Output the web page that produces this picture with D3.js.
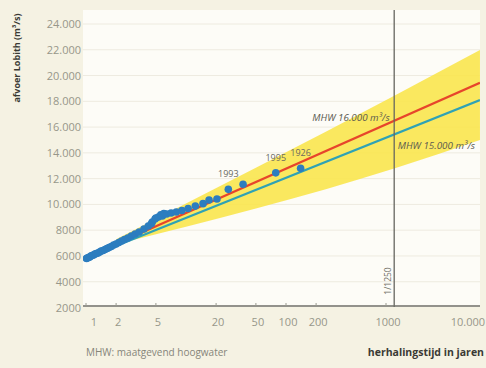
<!DOCTYPE html>
<html><head><meta charset="utf-8">
<script src="https://cdn.jsdelivr.net/npm/d3@7"></script>
<style>
html,body{margin:0;padding:0;background:#f5f2e3;}
svg{display:block;font-family:"Open Sans",sans-serif;}
</style></head>
<body>
<svg id="c" width="486" height="368"></svg>
<script>
// ---- data ----
const yTicks = [2000,4000,6000,8000,10000,12000,14000,16000,18000,20000,22000,24000];
const xTicks = [1,2,5,20,50,100,200,1000,10000];
const xTickLabels = ["1","2","5","20","50","100","200","1000","10.000"];

// observed annual maxima: return period (years) and discharge (m3/s)
const obsT = [1.01,1.03,1.06,1.09,1.12,1.15,1.19,1.23,1.27,1.32,1.37,1.42,1.48,1.55,1.62,1.70,1.79,1.89,2.0,2.13,2.27,2.43,2.62,2.84,3.1,3.4,3.8,4.2,4.5,4.6,4.9,5.0,5.3,5.6,5.8,6.0,6.4,7.1,8.0,9.1,10.5,12.4,14.8,17,20.4,26.5,37.2,79,140];
const obsQ = [5800,5840,5880,5920,6000,6030,6070,6150,6190,6230,6310,6380,6420,6500,6580,6650,6730,6850,6930,7040,7160,7280,7390,7550,7700,7860,8090,8320,8500,8630,8860,8950,9020,9200,9100,9300,9250,9330,9410,9530,9680,9870,10060,10340,10420,11170,11560,12450,12800];
const yearLabels = [{T:26.5,Q:11170,label:"1993"},{T:79,Q:12450,label:"1995"},{T:140,Q:12800,label:"1926"}];

// fitted lines
const lineT = [1, 8700];
const mhw16Q = [5900, 19440];
const mhw15Q = [5840, 18100];

// confidence band
const bandT = [2, 1250, 8700];
const bandUpper = [7300, 18490, 21980];
const bandLower = [6900, 12820, 14990];

const designT = 1250;

// ---- drawing ----
const svg = d3.select("#c");
const x = d3.scaleLog().domain([1,10000]).range([86,486]);
const y = d3.scaleLinear().domain([2000,24000]).range([307.5,24]);
const plotL = 83, plotR = 480, plotT = 10, plotB = 307;

svg.append("rect").attr("x",plotL).attr("y",plotT).attr("width",plotR-plotL).attr("height",plotB-plotT).attr("fill","#fdfcf7");

// gridlines
svg.append("g").selectAll("line").data(yTicks.slice(1)).join("line")
  .attr("x1",plotL).attr("x2",plotR).attr("y1",d=>y(d)).attr("y2",d=>y(d))
  .attr("stroke","#eeebe0").attr("stroke-width",1);

const clip = svg.append("clipPath").attr("id","pc").append("rect")
  .attr("x",plotL).attr("y",plotT).attr("width",plotR-plotL).attr("height",plotB-plotT);
const g = svg.append("g").attr("clip-path","url(#pc)");

// band
const bandData = bandT.map((t,i)=>({t, u:bandUpper[i], l:bandLower[i]}));
g.append("path").datum(bandData)
  .attr("d", d3.area().x(d=>x(d.t)).y0(d=>y(d.l)).y1(d=>y(d.u)).curve(d3.curveMonotoneX))
  .attr("fill","#f9e64e").attr("opacity",0.9);

// lines
const ln = d3.line().x(d=>x(d.t)).y(d=>y(d.q));
g.append("path").datum(lineT.map((t,i)=>({t,q:mhw15Q[i]}))).attr("d",ln)
  .attr("fill","none").attr("stroke","#2fa2b5").attr("stroke-width",2.2);
g.append("path").datum(lineT.map((t,i)=>({t,q:mhw16Q[i]}))).attr("d",ln)
  .attr("fill","none").attr("stroke","#e7452b").attr("stroke-width",2.4);

// vertical design line
svg.append("line").attr("x1",x(designT)-1.5).attr("x2",x(designT)-1.5).attr("y1",plotT).attr("y2",plotB)
  .attr("stroke","#666660").attr("stroke-width",1.3);

// x axis
svg.append("line").attr("x1",plotL).attr("x2",plotR).attr("y1",plotB-1).attr("y2",plotB-1)
  .attr("stroke","#6f6f68").attr("stroke-width",1.4);
svg.append("g").selectAll("line").data(xTicks.slice(0,8)).join("line")
  .attr("x1",d=>x(d)).attr("x2",d=>x(d)).attr("y1",plotB-1).attr("y2",plotB-4)
  .attr("stroke","#9a9a90").attr("stroke-width",1);

// dots
g.append("g").selectAll("circle").data(obsT.map((t,i)=>({t,q:obsQ[i]}))).join("circle")
  .attr("cx",d=>x(d.t)).attr("cy",d=>y(d.q)).attr("r",3.8).attr("fill","#2c7dbf");

// year labels
svg.append("g").selectAll("text").data(yearLabels).join("text")
  .attr("x",d=>x(d.T)).attr("y",d=>y(d.Q)-12).attr("text-anchor","middle")
  .attr("font-size",9).attr("fill","#6a6a60").text(d=>d.label);

// y tick labels
const fmt = v => v >= 10000 ? d3.format(",")(v).replace(",", ".") : String(v);
svg.append("g").selectAll("text").data(yTicks).join("text")
  .attr("x",81).attr("y",d=>y(d)+4).attr("text-anchor","end")
  .attr("font-size",11).attr("fill","#97978a").text(fmt);

// x tick labels
svg.append("g").selectAll("text").data(xTicks).join("text")
  .attr("x",(d,i)=> i===xTicks.length-1 ? 485 : (i===0 ? x(d)+8 : x(d)+2))
  .attr("y",326).attr("text-anchor",(d,i)=> i===xTicks.length-1 ? "end":"middle")
  .attr("font-size",11).attr("fill","#97978a").text((d,i)=>xTickLabels[i]);

// annotations
svg.append("text").attr("x",x(designT)-6).attr("y",121).attr("text-anchor","end")
  .attr("font-size",9.8).attr("font-style","italic").attr("fill","#5a5a50").text("MHW 16.000 m³/s");
svg.append("text").attr("x",x(designT)+2).attr("y",149).attr("text-anchor","start")
  .attr("font-size",9.8).attr("font-style","italic").attr("fill","#5a5a50").text("MHW 15.000 m³/s");
svg.append("text").attr("transform",`translate(${x(designT)-5},281) rotate(-90)`)
  .attr("text-anchor","middle").attr("font-size",8.5).attr("fill","#6f6f66").text("1/1250");

// axis titles
svg.append("text").attr("transform","translate(19.5,58) rotate(-90)").attr("text-anchor","middle")
  .attr("font-size",9).attr("font-weight","bold").attr("fill","#3a3a34").text("afvoer Lobith (m³/s)");
svg.append("text").attr("x",484).attr("y",356).attr("text-anchor","end")
  .attr("font-size",10.5).attr("font-weight","bold").attr("fill","#3a3a34").text("herhalingstijd in jaren");
svg.append("text").attr("x",86).attr("y",356).attr("text-anchor","start")
  .attr("font-size",10).attr("fill","#85857a").text("MHW: maatgevend hoogwater");
</script>
</body></html>
